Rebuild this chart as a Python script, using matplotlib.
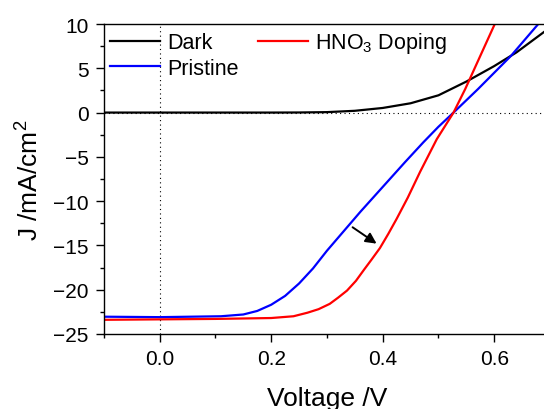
import matplotlib
matplotlib.use('Agg')
import matplotlib.pyplot as plt

plt.rcParams['font.family'] = ['Liberation Sans', 'DejaVu Sans']
plt.rcParams['mathtext.fontset'] = 'custom'
plt.rcParams['mathtext.rm'] = 'Liberation Sans'
plt.rcParams['mathtext.it'] = 'Liberation Sans'
plt.rcParams['mathtext.default'] = 'regular'

# J-V data
dark_v = [-0.1, 0.0, 0.1, 0.2, 0.25, 0.3, 0.35, 0.4, 0.45, 0.5, 0.55, 0.6, 0.64, 0.7]
dark_j = [0.0, 0.0, 0.0, 0.0, 0.01, 0.05, 0.2, 0.52, 1.05, 1.95, 3.5, 5.25, 6.8, 9.6]

pris_v = [-0.1, 0.0, 0.11, 0.15, 0.175, 0.2, 0.225, 0.25, 0.275, 0.3, 0.33, 0.36, 0.4, 0.44,
          0.473, 0.5, 0.527, 0.571, 0.63, 0.679, 0.7]
pris_j = [-23.05, -23.1, -23.0, -22.8, -22.4, -21.7, -20.7, -19.3, -17.6, -15.6, -13.4, -11.2,
          -8.4, -5.6, -3.35, -1.6, 0.0, 2.66, 6.4, 10.0, 11.4]

hno3_v = [-0.1, 0.0, 0.1, 0.2, 0.24, 0.265, 0.285, 0.305, 0.32, 0.336, 0.352, 0.367, 0.38,
          0.395, 0.41, 0.425, 0.445, 0.467, 0.497, 0.527, 0.548, 0.601, 0.62]
hno3_j = [-23.4, -23.35, -23.3, -23.2, -23.0, -22.6, -22.2, -21.6, -20.9, -20.1, -19.0, -17.7,
          -16.6, -15.3, -13.7, -12.0, -9.6, -6.7, -3.0, 0.0, 2.66, 10.0, 12.6]

labels = ['Dark', 'Pristine', 'HNO$_3$ Doping']
colors = ['black', 'blue', 'red']

fig = plt.figure(figsize=(5.44, 4.10), dpi=100)
ax = fig.add_axes([0.191, 0.183, 0.82, 0.756])

ax.axhline(0, color='black', lw=0.8, ls=(0, (1, 3)), zorder=1)
ax.axvline(0, color='black', lw=0.8, ls=(0, (1, 3)), zorder=1)

ax.plot(dark_v, dark_j, color=colors[0], lw=1.6, label=labels[0])
ax.plot(pris_v, pris_j, color=colors[1], lw=1.6, label=labels[1])
ax.plot(hno3_v, hno3_j, color=colors[2], lw=1.6, label=labels[2])

ax.annotate('', xy=(0.389, -14.8), xytext=(0.346, -12.95),
            arrowprops=dict(arrowstyle='-|>', color='black', lw=1.4, mutation_scale=16,
                            shrinkA=0, shrinkB=0))

ax.set_xlim(-0.1, 0.7)
ax.set_ylim(-25, 10)
ax.set_xticks([0.0, 0.2, 0.4, 0.6])
ax.set_xticks([-0.1, 0.1, 0.3, 0.5, 0.7], minor=True)
ax.set_yticks(range(-25, 11, 5))
ax.set_yticks([-22.5, -17.5, -12.5, -7.5, -2.5, 2.5, 7.5], minor=True)
ax.set_xticklabels(['0.0', '0.2', '0.4', '0.6'])

ax.tick_params(which='both', direction='out', labelsize=15, width=1)
ax.tick_params(which='major', length=6, pad=5)
ax.tick_params(which='minor', length=3)
for s in ax.spines.values():
    s.set_linewidth(1)

ax.set_xlabel('Voltage /V', fontsize=19, labelpad=13)
ax.set_ylabel('J /mA/cm$^2$', fontsize=19, labelpad=7)

ax.legend(loc='upper left', ncol=2, frameon=False, fontsize=15.5,
          handlelength=2.3, handletextpad=0.35, columnspacing=0.9,
          labelspacing=0.2, borderaxespad=0.1, borderpad=0.2)

fig.savefig('out.png', dpi=100)
